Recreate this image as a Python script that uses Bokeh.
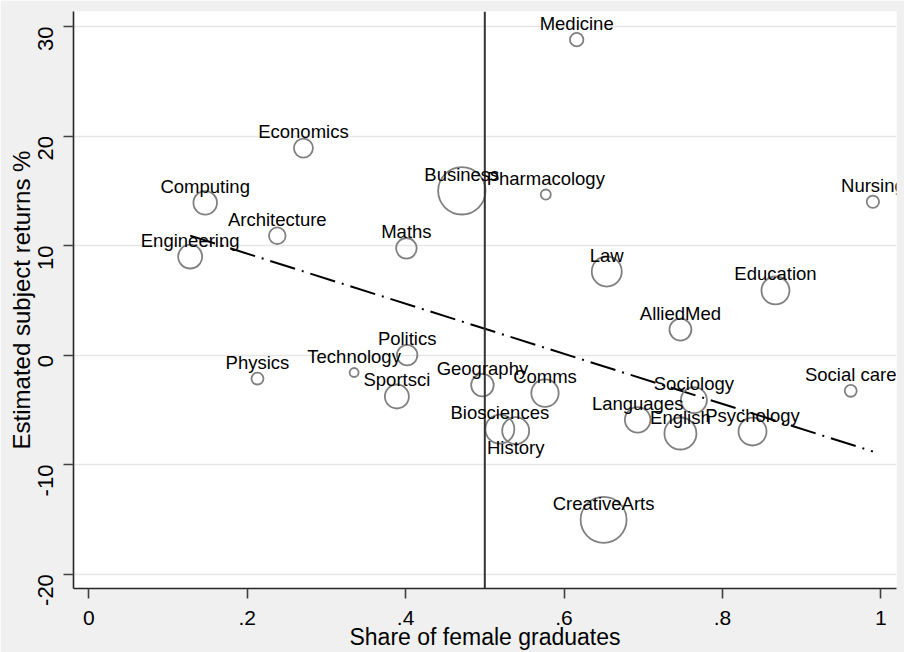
import numpy as np
from bokeh.plotting import figure
from bokeh.models import ColumnDataSource, LabelSet, Span, Range1d, FixedTicker
from bokeh.core.properties import value
from bokeh.embed import file_html
from bokeh.resources import INLINE

# ---- data ----
subjects = ["Medicine", "Economics", "Computing", "Architecture", "Engineering",
            "Maths", "Business", "Pharmacology", "Law", "Nursing", "Education",
            "AlliedMed", "Physics", "Politics", "Technology", "Sportsci",
            "Geography", "Comms", "Biosciences", "History", "CreativeArts",
            "Languages", "Sociology", "English", "Psychology", "Social care"]
female_share = [0.616, 0.271, 0.147, 0.238, 0.128,
                0.401, 0.471, 0.577, 0.654, 0.990, 0.867,
                0.747, 0.213, 0.402, 0.335, 0.389,
                0.497, 0.576, 0.519, 0.539, 0.650,
                0.693, 0.764, 0.747, 0.838, 0.962]
returns_pct = [28.8, 18.9, 13.9, 10.9, 9.0,
               9.75, 15.0, 14.66, 7.63, 14.0, 5.9,
               2.33, -2.14, 0.0, -1.59, -3.78,
               -2.74, -3.47, -6.76, -6.9, -15.04,
               -5.91, -4.11, -7.16, -6.98, -3.26]
graduates = [8.0, 16.1, 24.8, 12.3, 25.6,
             18.9, 100.0, 4.5, 40.1, 6.8, 34.9,
             21.5, 6.4, 18.5, 3.6, 25.6,
             22.7, 33.4, 37.4, 32.4, 94.0,
             29.2, 30.1, 45.6, 34.9, 6.4]
labels_below = ["History"]          # label shown under its bubble
fit_x = [0.128, 0.990]
fit_y = [10.91, -8.80]
x_ticks = [0, 0.2, 0.4, 0.6, 0.8, 1]
x_tick_labels = ["0", ".2", ".4", ".6", ".8", "1"]
y_ticks = [-20, -10, 0, 10, 20, 30]
y_tick_labels = ["-20", "-10", "0", "10", "20", "30"]
x_title = "Share of female graduates"
y_title = "Estimated subject returns %"
gender_parity = 0.5

FONT = "Liberation Sans"

sizes = [47.4 * np.sqrt(w / 100.0) for w in graduates]
src = ColumnDataSource(dict(name=subjects, x=female_share, y=returns_pct, size=sizes))

above = [i for i, s in enumerate(subjects) if s not in labels_below]
below = [i for i, s in enumerate(subjects) if s in labels_below]
src_above = ColumnDataSource(dict(name=[subjects[i] for i in above],
                                  x=[female_share[i] for i in above],
                                  y=[returns_pct[i] for i in above]))
src_below = ColumnDataSource(dict(name=[subjects[i] for i in below],
                                  x=[female_share[i] for i in below],
                                  y=[returns_pct[i] for i in below]))

p = figure(width=904, height=652, output_backend="svg", toolbar_location=None,
           x_range=Range1d(-0.0193, 1.0198), y_range=Range1d(-21.31, 31.37),
           min_border_left=73, min_border_right=8, min_border_top=11,
           min_border_bottom=64)
p.border_fill_color = "#f0f0f0"
p.background_fill_color = "white"
p.outline_line_color = None

# axes
p.xaxis.ticker = FixedTicker(ticks=x_ticks)
p.xaxis.major_label_overrides = dict(zip(x_ticks, x_tick_labels))
p.yaxis.ticker = FixedTicker(ticks=y_ticks)
p.yaxis.major_label_overrides = dict(zip(y_ticks, y_tick_labels))
for ax in (p.xaxis, p.yaxis):
    ax.axis_line_color = "#262626"
    ax.axis_line_width = 1.6
    ax.major_tick_line_color = "#404040"
    ax.major_tick_line_width = 1.6
    ax.major_tick_in = 0
    ax.major_tick_out = 10
    ax.minor_tick_line_color = None
    ax.major_label_text_font = FONT
    ax.major_label_text_color = "black"
    ax.axis_label_text_font = FONT
    ax.axis_label_text_font_style = "normal"
    ax.axis_label_text_color = "black"
p.xaxis.major_label_text_font_size = "21px"
p.xaxis.major_label_standoff = 12
p.xaxis.axis_label = x_title
p.xaxis.axis_label_text_font_size = "23px"
p.xaxis.axis_label_standoff = -4
p.yaxis.major_label_text_font_size = "22px"
p.yaxis.major_label_orientation = np.pi / 2
p.yaxis.major_label_standoff = 18
p.yaxis.axis_label = y_title
p.yaxis.axis_label_text_font_size = "24px"
p.yaxis.axis_label_standoff = -7

p.xgrid.grid_line_color = None
p.ygrid.ticker = FixedTicker(ticks=y_ticks)
p.ygrid.grid_line_color = "#e6e6e6"
p.ygrid.grid_line_width = 1.6

# vertical reference line at gender parity
p.add_layout(Span(location=gender_parity, dimension="height",
                  line_color="#333333", line_width=2))

# fitted line
p.line(fit_x, fit_y, line_color="black", line_width=2, line_dash="26 7 2 7")

# bubbles
p.scatter("x", "y", source=src, size="size", marker="circle",
          fill_color=None, line_color="#808080", line_width=1.8)

# labels
label_style = dict(text_align="center", text_baseline="alphabetic",
                   text_font=value(FONT), text_font_size="18.5px",
                   text_color="black")
p.add_layout(LabelSet(x="x", y="y", text="name", source=src_above,
                      y_offset=10, **label_style))
p.add_layout(LabelSet(x="x", y="y", text="name", source=src_below,
                      y_offset=-23, **label_style))

open("out.html", "w").write(file_html(p, INLINE))
